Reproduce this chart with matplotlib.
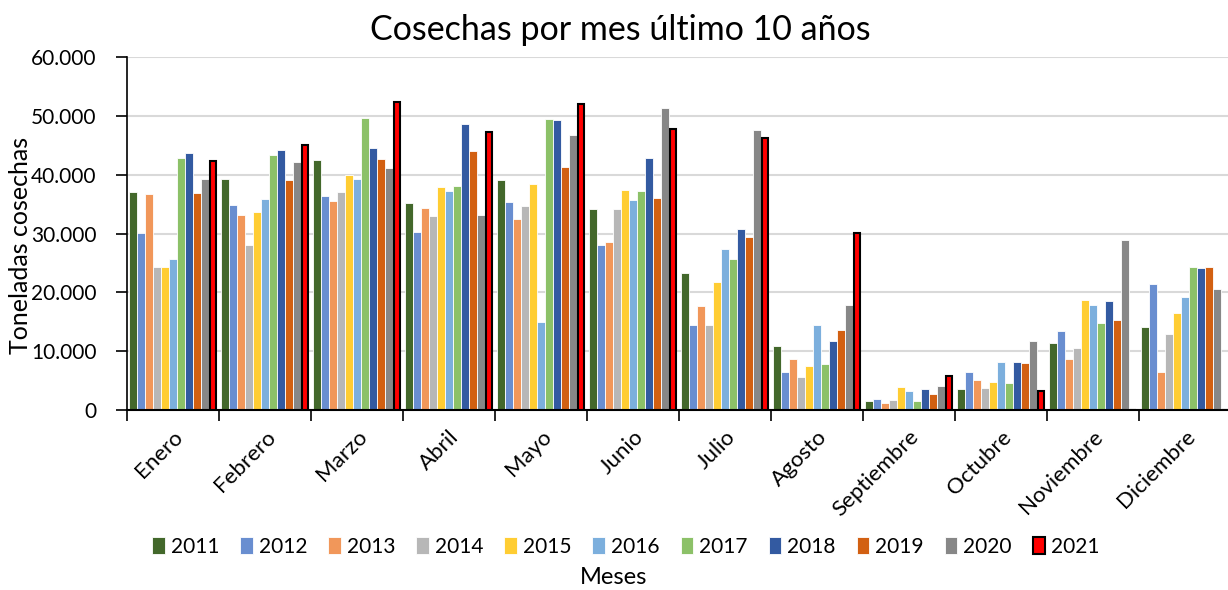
import numpy as np
import matplotlib.pyplot as plt
from matplotlib.ticker import FuncFormatter

plt.rcParams['font.family'] = ['Lato', 'DejaVu Sans']

meses = ["Enero", "Febrero", "Marzo", "Abril", "Mayo", "Junio", "Julio",
         "Agosto", "Septiembre", "Octubre", "Noviembre", "Diciembre"]
years = ["2011", "2012", "2013", "2014", "2015", "2016", "2017", "2018",
         "2019", "2020", "2021"]

# toneladas por mes, una lista por año
y2011 = [37000, 39270, 42440, 35240, 39100, 34170, 23290, 10820, 1590, 3510, 11450, 14110]
y2012 = [30090, 34900, 36380, 30260, 35360, 27990, 14390, 6460, 1930, 6400, 13430, 21470]
y2013 = [36700, 33150, 35530, 34390, 32470, 28560, 17620, 8730, 1130, 5160, 8670, 6400]
y2014 = [24360, 28100, 37060, 33030, 34730, 34170, 14500, 5610, 1700, 3740, 10600, 12980]
y2015 = [24360, 33660, 39950, 37910, 38420, 37450, 21760, 7540, 3850, 4760, 18640, 16490]
y2016 = [25720, 35810, 39210, 37230, 15020, 35700, 27420, 14500, 3290, 8220, 17790, 19210]
y2017 = [42830, 43400, 49640, 38130, 49410, 37230, 25610, 7880, 1590, 4650, 14850, 24360]
y2018 = [43680, 44200, 44540, 48620, 49300, 42830, 30820, 11790, 3510, 8100, 18530, 24080]
y2019 = [36940, 39100, 42720, 43970, 41360, 36040, 29410, 13650, 2780, 7930, 15300, 24310]
y2020 = [39320, 42210, 41080, 33200, 46800, 51280, 47650, 17900, 4140, 11730, 28950, 20620]
y2021 = [42380, 44990, 52300, 47310, 51960, 47820, 46180, 30030, 5720, 3170, 0, 0]

series = [y2011, y2012, y2013, y2014, y2015, y2016, y2017, y2018, y2019, y2020, y2021]
colors = ["#43682B", "#698ED0", "#F1975A", "#B7B7B7", "#FFCD33", "#7CAFDD",
          "#8CC168", "#335AA1", "#D26012", "#878787", "#FF0000"]

fig = plt.figure(figsize=(12.28, 5.9), dpi=100)
ax = fig.add_axes([127 / 1228, 1 - 410 / 590, 1104 / 1228, 353 / 590])

x = np.arange(len(meses))
pitch = 0.087
for i, (vals, c) in enumerate(zip(series, colors)):
    off = (i - 5) * pitch
    if years[i] == "2021":
        ax.bar(x + off, vals, width=pitch * 0.78, color=c, edgecolor="black",
               linewidth=1.5, label=years[i], zorder=3)
    else:
        ax.bar(x + off, vals, width=pitch * 0.9, color=c, edgecolor="white",
               linewidth=0.6, label=years[i], zorder=2)

ax.set_xlim(-0.5, len(meses) - 0.5)
ax.set_ylim(0, 60000)
ax.set_yticks(np.arange(0, 60001, 10000))
ax.yaxis.set_major_formatter(FuncFormatter(
    lambda v, p: "0" if v == 0 else f"{int(v):,}".replace(",", ".")))
ax.grid(axis="y", color="#D9D9D9", linewidth=1.5, zorder=0)
ax.set_axisbelow(True)

ax.set_xticks(np.arange(-0.5, len(meses), 1))
ax.set_xticklabels([])
ax.tick_params(axis="x", which="major", length=8, width=1.2, direction="out")
ax.set_xticks(x, minor=True)
ax.set_xticklabels(meses, minor=True, rotation=45, ha="right",
                   rotation_mode="anchor", fontsize=16)
ax.tick_params(axis="x", which="minor", length=0, pad=12)
ax.tick_params(axis="y", labelsize=15, length=8, width=1.2, pad=14)

for s in ["top", "right"]:
    ax.spines[s].set_visible(False)
ax.spines["left"].set_linewidth(1.2)
ax.spines["bottom"].set_linewidth(1.5)

fig.text(21 / 1228, 1 - 245 / 590, "Toneladas cosechas", rotation=90,
         ha="center", va="center", fontsize=18)
fig.text(0.5, 1 - 578 / 590, "Meses", ha="center", va="center", fontsize=17)
fig.text(620 / 1228, 1 - 30 / 590, "Cosechas por mes último 10 años", ha="center",
         va="center", fontsize=24.5)

ax.legend(loc="center", bbox_to_anchor=(626 / 1228, 1 - 547 / 590),
          bbox_transform=fig.transFigure, ncol=11, frameon=False, fontsize=15,
          handlelength=0.6, handleheight=0.9, handletextpad=0.3,
          columnspacing=1.0)

fig.savefig("out.png", dpi=100)
